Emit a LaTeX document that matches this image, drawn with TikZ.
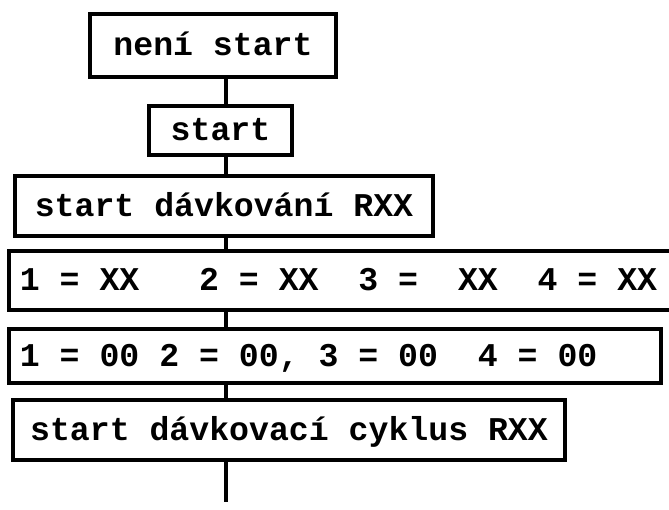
\documentclass[tikz,border=0pt]{standalone}
\usepackage{fontspec}
\setmonofont{Liberation Mono}
\usetikzlibrary{positioning}
\newcommand{\mz}{\hphantom{0}}
\begin{document}
\begin{tikzpicture}[x=0.025cm, y=-0.025cm, font=\ttfamily\bfseries\fontsize{23.6}{28}\selectfont]
      % Styles
      \tikzset{krok/.style={draw, rectangle, line width=3.2pt, inner xsep=0pt, inner ysep=0pt, text height=0.65cm, text depth=0.15cm}}
      \tikzset{registr/.style={krok, inner xsep=0.275cm, align=left}}
      \tikzset{spoj/.style={line width=2.6pt}}

      \useasboundingbox (0,0) rectangle (669,509);
      \clip (0,0) rectangle (669,509);

      % --- the boxes, top to bottom ---
      \node[krok, minimum width=6.15cm, minimum height=1.575cm] (nenistart) at (213, 45.5) {není\mz start};
      \node[krok, minimum width=3.575cm, minimum height=1.225cm] (start) at (220.5, 130.5) {start};
      \node[krok, minimum width=10.45cm, minimum height=1.5cm] (davkovani) at (224, 206) {start\mz dávkování\mz RXX};
      \node[registr, text width=16.725cm, minimum height=1.475cm] (regxx) at (354.5, 280.5)
        {1\mz=\mz XX\mz\mz\mz 2\mz=\mz XX\mz\mz 3\mz=\mz\mz XX\mz\mz 4\mz=\mz XX};
      \node[registr, text width=15.75cm, minimum height=1.35cm] (regnula) at (335, 356)
        {1\mz=\mz 00\mz 2\mz=\mz 00,\mz 3\mz=\mz 00\mz\mz 4\mz=\mz 00};
      \node[krok, minimum width=13.8cm, minimum height=1.5cm] (cyklus) at (289, 430) {start\mz dávkovací\mz cyklus\mz RXX};

      % --- the trunk line ---
      \coordinate (osa) at (226, 0);
      \coordinate (konec) at (226, 502);
      \draw[spoj] (osa |- nenistart.south) -- (osa |- start.north);
      \draw[spoj] (osa |- start.south) -- (osa |- davkovani.north);
      \draw[spoj] (osa |- davkovani.south) -- (osa |- regxx.north);
      \draw[spoj] (osa |- regxx.south) -- (osa |- regnula.north);
      \draw[spoj] (osa |- regnula.south) -- (osa |- cyklus.north);
      \draw[spoj] (osa |- cyklus.south) -- (konec);

\end{tikzpicture}
\end{document}
